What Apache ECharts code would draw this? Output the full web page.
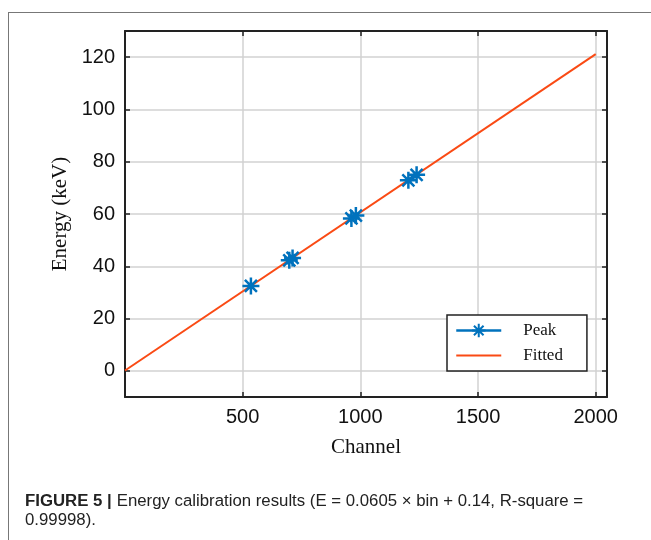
<!DOCTYPE html>
<html>
<head>
<meta charset="utf-8">
<title>Energy calibration</title>
<script src="https://cdn.jsdelivr.net/npm/echarts@6/dist/echarts.min.js"></script>
<style>
  html, body { margin: 0; padding: 0; background: #fff; }
  #main { position: absolute; left: 0; top: 0; width: 651px; height: 540px; }
  #frame { position: absolute; left: 8px; top: 12px; width: 643px; height: 528px;
           border-left: 1px solid #777; border-top: 1px solid #777; pointer-events: none; }
</style>
</head>
<body>
<div id="main"></div>
<div id="frame"></div>
<script>
// measured peaks (channel, keV)
const peakChannel = [535, 698, 712, 962, 981, 1204, 1239]
const peakEnergy = [32.5, 42.3, 43.2, 58.3, 59.4, 72.9, 75.0]

// fitted line end points
const fitChannel = [0, 2000]
const fitEnergy = [0.14, 121.14]

const xTicks = [500, 1000, 1500, 2000]
const yTicks = [0, 20, 40, 60, 80, 100, 120]

const BLUE = '#0072BD'
const ORANGE = '#FA4A14'
const STAR = 'path://M0,-8L0,8M-8,0L8,0M-5.66,-5.66L5.66,5.66M-5.66,5.66L5.66,-5.66'

const labelFont = { fontFamily: 'Liberation Sans', fontSize: 20, color: '#111' }
const nameFont = { fontFamily: 'Liberation Serif', fontSize: 21, color: '#111' }
const frameLine = { show: true, onZero: false, lineStyle: { color: '#222', width: 2 } }
const gridLine = { show: true, lineStyle: { color: '#d2d2d2', width: 1.5 } }

function ticks(values) {
  return { show: true, inside: true, length: 5, customValues: values, lineStyle: { color: '#222', width: 1.5 } }
}

let myChart = echarts.init(document.getElementById('main'))

myChart.setOption({
  animation: false,
  title: {
    left: 25,
    top: 492,
    padding: 0,
    text: '{b|FIGURE 5 |} {r|Energy calibration results (E = 0.0605 × bin + 0.14, R-square =}\n{r|0.99998).}',
    textStyle: {
      fontWeight: 'normal',
      rich: {
        b: { fontFamily: 'Liberation Sans', fontWeight: 'bold', fontSize: 16.8, color: '#222', lineHeight: 19 },
        r: { fontFamily: 'Liberation Sans', fontWeight: 'normal', fontSize: 16.8, color: '#222', lineHeight: 19 }
      }
    }
  },
  grid: {
    left: 125,
    right: 44,
    top: 31,
    bottom: 143
  },
  legend: {
    orient: 'vertical',
    left: 447,
    top: 315,
    padding: [7, 24, 7, 8],
    itemGap: 8,
    itemWidth: 45,
    itemHeight: 17,
    selectedMode: false,
    backgroundColor: '#fff',
    borderColor: '#222',
    borderWidth: 1.5,
    textStyle: { fontFamily: 'Liberation Serif', fontSize: 17, color: '#111', padding: [0, 0, 0, 17] },
    data: [
      { name: 'Peak', lineStyle: { width: 2.5, color: BLUE } },
      { name: 'Fitted', itemStyle: { opacity: 0 } }
    ]
  },
  xAxis: [
    {
      type: 'value',
      min: 0,
      max: 2048,
      position: 'bottom',
      name: 'Channel',
      nameLocation: 'middle',
      nameGap: 40,
      nameTextStyle: nameFont,
      axisLine: frameLine,
      axisTick: ticks(xTicks),
      axisLabel: Object.assign({ customValues: xTicks, margin: 10, formatter: v => String(v) }, labelFont),
      splitLine: gridLine
    },
    {
      type: 'value',
      min: 0,
      max: 2048,
      position: 'top',
      axisLine: frameLine,
      axisTick: ticks(xTicks),
      axisLabel: { show: false },
      splitLine: { show: false }
    }
  ],
  yAxis: [
    {
      type: 'value',
      min: -10,
      max: 130,
      position: 'left',
      name: 'Energy (keV)',
      nameLocation: 'middle',
      nameGap: 52,
      nameTextStyle: nameFont,
      axisLine: frameLine,
      axisTick: ticks(yTicks),
      axisLabel: Object.assign({ customValues: yTicks, margin: 10 }, labelFont),
      splitLine: gridLine
    },
    {
      type: 'value',
      min: -10,
      max: 130,
      position: 'right',
      axisLine: frameLine,
      axisTick: ticks(yTicks),
      axisLabel: { show: false },
      splitLine: { show: false }
    }
  ],
  series: [
    {
      name: 'Peak',
      type: 'line',
      data: peakChannel.map((c, i) => [c, peakEnergy[i]]),
      symbol: STAR,
      symbolSize: 17,
      showSymbol: true,
      lineStyle: { width: 0 },
      itemStyle: { color: BLUE, borderColor: BLUE, borderWidth: 2.5 }
    },
    {
      name: 'Fitted',
      type: 'line',
      data: fitChannel.map((c, i) => [c, fitEnergy[i]]),
      symbol: 'none',
      lineStyle: { color: ORANGE, width: 2 },
      itemStyle: { color: ORANGE }
    }
  ]
})
</script>
</body>
</html>
